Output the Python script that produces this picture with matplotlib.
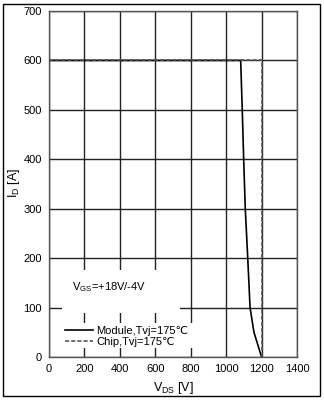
import matplotlib
matplotlib.use("Agg")
import matplotlib.pyplot as plt
from matplotlib.patches import Rectangle

plt.rcParams['font.family'] = ['Liberation Sans', 'DejaVu Sans']
plt.rcParams['mathtext.fontset'] = 'custom'
plt.rcParams['mathtext.rm'] = 'Liberation Sans'
plt.rcParams['mathtext.it'] = 'Liberation Sans'

# Data
module_vds = [0, 1082, 1091, 1099, 1108, 1122, 1135, 1157, 1200]
module_id = [600, 600, 500, 400, 300, 200, 100, 50, 0]
chip_vds = [0, 1200, 1200]
chip_id = [600, 600, 0]
x_ticks = [0, 200, 400, 600, 800, 1000, 1200, 1400]
y_ticks = [0, 100, 200, 300, 400, 500, 600, 700]

fig = plt.figure(figsize=(3.24, 4.0), dpi=100)
ax = fig.add_axes([49/324, 1-357/400, 248/324, 346/400])

ax.plot(module_vds, module_id, color='black', lw=1.2, label='Module,Tvj=175\u2103', zorder=3)
ax.plot(chip_vds, chip_id, color='#555555', lw=1.2, ls=(0, (2.5, 1.2)), label='Chip,Tvj=175\u2103', zorder=3)

ax.set_xlim(0, 1400)
ax.set_ylim(0, 700)
ax.set_xticks(x_ticks)
ax.set_yticks(y_ticks)
ax.tick_params(length=0, labelsize=8, pad=5)
ax.grid(True, color='#222222', lw=1.0)
ax.set_axisbelow(True)
for s in ax.spines.values():
    s.set_color('#555555')
    s.set_linewidth(1.0)

ax.set_xlabel(r'V$_{\mathregular{DS}}$ [V]', fontsize=9, labelpad=4)
ax.set_ylabel(r'I$_{\mathregular{D}}$ [A]', fontsize=9)
ax.yaxis.label.set_va('center')
ax.yaxis.set_label_coords(-0.141, 0.503)

# white backgrounds behind annotation and legend (break the grid)
ax.add_patch(Rectangle((0.052, 0.127), 0.476, 0.124, transform=ax.transAxes,
                       facecolor='white', edgecolor='none', zorder=2))
ax.add_patch(Rectangle((0.052, 0.026), 0.541, 0.072, transform=ax.transAxes,
                       facecolor='white', edgecolor='none', zorder=2))

ax.text(130, 141, r'V$_{\mathregular{GS}}$=+18V/-4V', fontsize=8, va='center', ha='left', zorder=4)

leg = ax.legend(loc='center left', bbox_to_anchor=(0.065, 0.059), fontsize=8, frameon=False,
                handlelength=2.5, handletextpad=0.3, labelspacing=0.05, borderpad=0.0,
                borderaxespad=0.0)

fig.patches.append(Rectangle((3/324, 4/400), 317/324, 392/400, transform=fig.transFigure,
                             fill=False, edgecolor='black', lw=1.0))

fig.savefig('out.png', dpi=100)
